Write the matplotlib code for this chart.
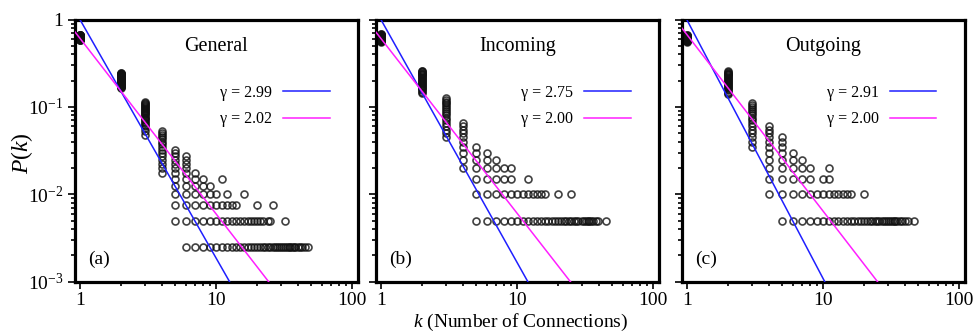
import numpy as np
import matplotlib
matplotlib.use('Agg')
import matplotlib.pyplot as plt
from matplotlib.ticker import LogLocator, FuncFormatter, NullFormatter

plt.rcParams['font.family'] = ['Liberation Serif', 'DejaVu Serif']
plt.rcParams['mathtext.fontset'] = 'custom'
plt.rcParams['mathtext.rm'] = 'Liberation Serif'
plt.rcParams['mathtext.it'] = 'Liberation Serif:italic'

titles = ['General', 'Incoming', 'Outgoing']
tags = ['(a)', '(b)', '(c)']
n_nodes = [400, 200, 200]
gamma_labels = [['2.99', '2.02'], ['2.75', '2.00'], ['2.91', '2.00']]
# fitted lines as drawn in the figure: P = amp * k**(-slope)
fit_amp = [[1.0, 0.61], [1.0, 0.607], [1.0, 0.676]]
fit_slope = [[2.73, 2.01], [2.78, 2.00], [2.96, 2.02]]
line_colors = ['#1f1fff', '#ff1fff']

# node counts seen at each degree k (P = count / n_nodes)
general = {
    1: range(234, 268), 2: range(66, 99), 3: [19, 21] + list(range(23, 46)),
    4: range(7, 22), 5: range(2, 14), 6: range(1, 12), 7: range(1, 8),
    8: range(1, 7), 9: range(1, 6), 10: range(1, 5), 11: [1, 2, 3, 6],
    12: [1, 2, 3, 4], 13: [1, 2, 3], 14: [1, 2, 3], 15: [1, 2], 16: [1, 2, 4],
    17: [1, 2], 18: [1, 2], 19: [1, 2], 20: [1, 2, 3], 21: [1, 2], 22: [1, 2],
    23: [1], 24: [1, 2], 25: [1, 2], 26: [1, 3], 27: [1], 28: [1], 29: [1],
    30: [1], 31: [1], 32: [1, 2], 33: [1], 34: [1], 35: [1], 36: [1], 37: [1],
    38: [1], 40: [1], 41: [1], 43: [1], 45: [1], 47: [1],
}
incoming = {
    1: range(112, 137), 2: range(29, 53), 3: range(9, 26), 4: range(4, 14),
    5: range(1, 8), 6: range(1, 7), 7: range(1, 6), 8: range(1, 5),
    9: range(1, 5), 10: [1, 2], 11: [1, 2], 12: [1, 2, 3], 13: [1, 2],
    14: [1, 2], 15: [1, 2], 16: [1, 2], 17: [1], 18: [1], 19: [1],
    20: [1, 2], 21: [1], 22: [1], 23: [1], 24: [1], 25: [1, 2], 26: [1],
    27: [1], 28: [1], 30: [1], 31: [1], 32: [1], 33: [1], 34: [1], 35: [1],
    36: [1], 38: [1], 39: [1], 45: [1],
}
outgoing = {
    1: range(112, 134), 2: range(28, 52), 3: range(7, 23), 4: range(2, 13),
    5: range(1, 10), 6: range(1, 7), 7: range(1, 6), 8: range(1, 5),
    9: [1, 2], 10: [1, 2, 3], 11: [1, 2, 3, 4], 12: [1, 2], 13: [1, 2],
    14: [1, 2], 15: [1, 2], 16: [1, 2], 17: [1], 18: [1], 19: [1],
    20: [1, 2], 21: [1], 22: [1], 23: [1], 24: [1], 25: [1], 26: [1],
    27: [1], 28: [1], 29: [1], 30: [1], 31: [1], 32: [1], 33: [1], 34: [1],
    35: [1], 37: [1], 38: [1], 40: [1], 42: [1], 47: [1],
}
panels = [general, incoming, outgoing]

fig = plt.figure(figsize=(9.74, 3.33), dpi=100)
lefts = [0.077, 0.386, 0.700]
width = 0.2905
bottom, height = 0.154, 0.7874

def ylab(v, pos):
    if v >= 1:
        return '1'
    return '10$^{%d}$' % int(round(np.log10(v)))

for i, data in enumerate(panels):
    ax = fig.add_axes([lefts[i], bottom, width, height])
    ks, ps = [], []
    for k, counts in data.items():
        for c in counts:
            ks.append(k)
            ps.append(c / n_nodes[i])
    ax.plot(ks, ps, 'o', ms=5, mfc='none', mec='#111111', mew=1.2,
            alpha=0.8, zorder=2)

    kk = np.logspace(np.log10(0.85), np.log10(60), 200)
    handles = []
    for j in range(2):
        h, = ax.plot(kk, fit_amp[i][j] * kk ** (-fit_slope[i][j]),
                     color=line_colors[j], lw=1.1, zorder=3,
                     label='\u03b3 = ' + gamma_labels[i][j])
        handles.append(h)

    ax.set_xscale('log')
    ax.set_yscale('log')
    ax.set_xlim(0.92, 110)
    ax.set_ylim(1e-3, 1)

    for s in ax.spines.values():
        s.set_linewidth(2.3)
    ax.tick_params(which='both', direction='out', top=False, right=False,
                   width=1.2, labelsize=14)
    ax.tick_params(which='major', length=5)
    ax.tick_params(which='minor', length=3)
    ax.tick_params(axis='x', which='major', pad=2.5)
    ax.xaxis.set_major_locator(LogLocator(base=10, numticks=10))
    ax.xaxis.set_minor_locator(LogLocator(base=10, subs=np.arange(2, 10), numticks=10))
    ax.xaxis.set_major_formatter(FuncFormatter(lambda v, p: '%d' % round(v)))
    ax.xaxis.set_minor_formatter(NullFormatter())
    ax.yaxis.set_major_locator(LogLocator(base=10, numticks=10))
    ax.yaxis.set_minor_locator(LogLocator(base=10, subs=np.arange(2, 10), numticks=10))
    ax.yaxis.set_minor_formatter(NullFormatter())
    if i == 0:
        ax.yaxis.set_major_formatter(FuncFormatter(ylab))
    else:
        ax.yaxis.set_major_formatter(NullFormatter())

    ax.text(0.5, 0.897, titles[i], transform=ax.transAxes, ha='center',
            va='center', fontsize=14.5)
    ax.text(0.086, 0.085, tags[i], transform=ax.transAxes, ha='center',
            va='center', fontsize=14)
    ax.legend(handles=handles, loc='center right', bbox_to_anchor=(0.9, 0.67),
              frameon=False, markerfirst=False, fontsize=11.5, handlelength=2.9,
              handletextpad=0.7, labelspacing=0.65, borderpad=0, borderaxespad=0)

fig.text(0.023, 0.54, '$P$($k$)', rotation=90, ha='center', va='center', fontsize=17)
fig.text(0.534, 0.0, '$k$ (Number of Connections)', ha='center', va='bottom', fontsize=14)

fig.savefig('out.png', dpi=100)
